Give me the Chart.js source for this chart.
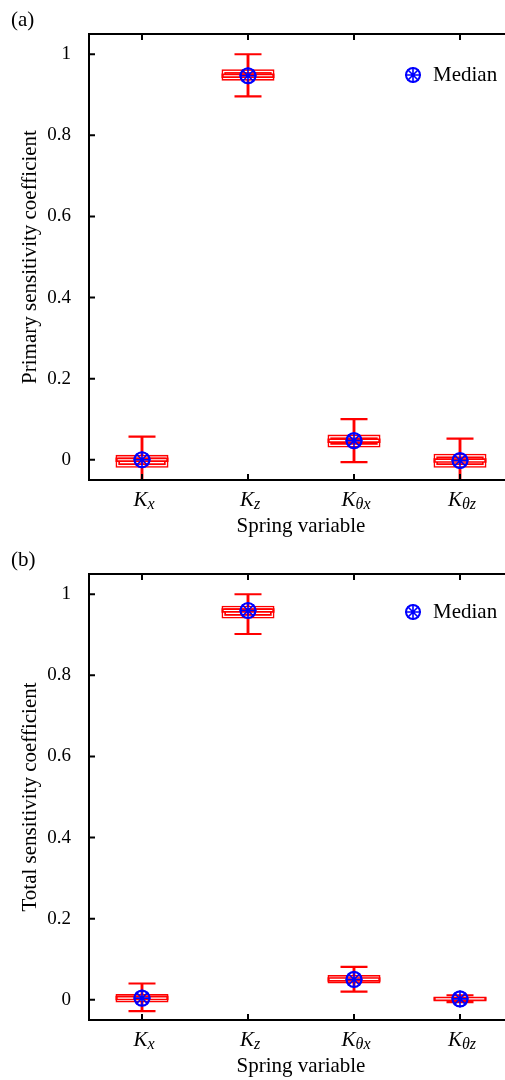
<!DOCTYPE html>
<html>
<head>
<meta charset="utf-8">
<script src="https://cdn.jsdelivr.net/npm/chart.js@4.4.0/dist/chart.umd.min.js"></script>
<style>
  body { margin: 0; background: #fff; }
  .panel { width: 505px; height: 540px; overflow: hidden; }
  canvas { display: block; }
</style>
</head>
<body>
<div class="panel"><canvas id="chartA" width="544" height="540" style="width:544px;height:540px"></canvas></div>
<div class="panel"><canvas id="chartB" width="544" height="540" style="width:544px;height:540px"></canvas></div>
<script>
// categories: K_x, K_z, K_θx, K_θz
const categories = ["Kx", "Kz", "Kθx", "Kθz"];
const subscripts = ["x", "z", "θx", "θz"];

// (a) primary sensitivity coefficient
const primaryLow = [-0.06, 0.896, -0.006, -0.06];
const primaryQ1 = [-0.02, 0.935, 0.030, -0.02];
const primaryMedian = [0.0, 0.947, 0.047, -0.002];
const primaryQ3 = [0.012, 0.963, 0.062, 0.015];
const primaryHigh = [0.057, 1.0, 0.100, 0.052];

// (b) total sensitivity coefficient
const totalLow = [-0.028, 0.902, 0.020, -0.006];
const totalQ1 = [-0.007, 0.940, 0.040, -0.002];
const totalMedian = [0.004, 0.960, 0.050, 0.002];
const totalQ3 = [0.014, 0.972, 0.061, 0.006];
const totalHigh = [0.040, 1.0, 0.081, 0.011];

const yTicks = [0, 0.2, 0.4, 0.6, 0.8, 1];

const RED = "#ff0000";
const BLUE = "#0000ff";
const FONT = "'Liberation Serif', 'Times New Roman', serif";

function points(vals) {
    return vals.map((v, i) => ({ x: categories[i], y: v }));
}

const boxPlugin = {
    id: "boxPlugin",
    afterDatasetDraw(chart, args) {
        if (chart.data.datasets[args.index].label !== "box") return;
        const ctx = chart.ctx;
        ctx.save();
        ctx.strokeStyle = "#fff";
        ctx.lineWidth = 1.2;
        args.meta.data.forEach(bar => {
            const p = bar.getProps(["x", "y", "base", "width"], true);
            const top = Math.min(p.y, p.base);
            const h = Math.abs(p.base - p.y);
            if (h < 6) return;
            ctx.strokeRect(p.x - p.width / 2 + 2.2, top + 2.2, p.width - 4.4, h - 4.4);
        });
        ctx.restore();
    },
    afterDraw(chart) {
        const ctx = chart.ctx;
        const { left, right, top, bottom } = chart.chartArea;
        const xs = chart.scales.x;
        const ys = chart.scales.y;
        const opts = chart.options.plugins.boxPlugin;

        ctx.save();
        ctx.strokeStyle = "#000";
        ctx.lineWidth = 2;
        ctx.beginPath();
        ctx.moveTo(right + 2, top);
        ctx.lineTo(left, top);
        ctx.lineTo(left, bottom);
        ctx.lineTo(right + 2, bottom);
        ctx.stroke();

        ctx.beginPath();
        yTicks.forEach(v => {
            const y = ys.getPixelForValue(v);
            ctx.moveTo(left, y);
            ctx.lineTo(left + 6, y);
        });
        categories.forEach((c, i) => {
            const x = xs.getPixelForValue(i);
            ctx.moveTo(x, bottom);
            ctx.lineTo(x, bottom - 6);
            ctx.moveTo(x, top);
            ctx.lineTo(x, top + 6);
        });
        ctx.stroke();

        // category labels with subscripts
        ctx.fillStyle = "#000";
        ctx.textBaseline = "alphabetic";
        ctx.textAlign = "left";
        categories.forEach((c, i) => {
            const x = xs.getPixelForValue(i);
            ctx.font = "italic 21px " + FONT;
            const wK = ctx.measureText("K").width;
            ctx.font = "italic 16px " + FONT;
            const wS = ctx.measureText(subscripts[i]).width;
            const x0 = x - (wK + wS) / 2 + 2;
            ctx.font = "italic 21px " + FONT;
            ctx.fillText("K", x0, bottom + 26);
            ctx.font = "italic 16px " + FONT;
            ctx.fillText(subscripts[i], x0 + wK, bottom + 29);
        });

        // panel letter
        ctx.font = "21px " + FONT;
        ctx.textBaseline = "middle";
        ctx.fillText(opts.letter, 11, 20);

        // legend
        const lx = 413, ly = opts.legendY;
        ctx.strokeStyle = BLUE;
        ctx.lineWidth = 2;
        ctx.beginPath();
        ctx.arc(lx, ly, 7, 0, Math.PI * 2);
        ctx.stroke();
        ctx.lineWidth = 1.6;
        ctx.beginPath();
        ctx.moveTo(lx - 8, ly); ctx.lineTo(lx + 8, ly);
        ctx.moveTo(lx, ly - 8); ctx.lineTo(lx, ly + 8);
        ctx.moveTo(lx - 5.5, ly - 5.5); ctx.lineTo(lx + 5.5, ly + 5.5);
        ctx.moveTo(lx - 5.5, ly + 5.5); ctx.lineTo(lx + 5.5, ly - 5.5);
        ctx.stroke();
        ctx.font = "21px " + FONT;
        ctx.fillText("Median", 433, ly);
        ctx.restore();
    }
};

function makeChart(id, yTitle, low, q1, median, q3, high, letter, legendY) {
    const whiskers = low.map((v, i) => [v, high[i]]);
    const boxes = q1.map((v, i) => [v, q3[i]]);
    const caps = points(low).concat(points(high));

    new Chart(document.getElementById(id), {
        type: "bar",
        data: {
            labels: categories,
            datasets: [
                {
                    type: "line", label: "median", data: points(median), showLine: false,
                    pointStyle: "circle", pointRadius: 7.5, borderWidth: 2.2,
                    borderColor: BLUE, backgroundColor: "rgba(0,0,0,0)"
                },
                {
                    type: "line", label: "medianStar", data: points(median), showLine: false,
                    pointStyle: "star", pointRadius: 8.5, borderWidth: 1.6,
                    borderColor: BLUE, backgroundColor: "rgba(0,0,0,0)"
                },
                {
                    type: "line", label: "medianInner", data: points(median), showLine: false,
                    pointStyle: "line", pointRadius: 24.3, borderWidth: 1.2, borderColor: "#fff"
                },
                {
                    type: "line", label: "medianLine", data: points(median), showLine: false,
                    pointStyle: "line", pointRadius: 26.5, borderWidth: 4.5, borderColor: RED
                },
                {
                    type: "line", label: "caps", data: caps, showLine: false,
                    pointStyle: "line", pointRadius: 13.5, borderWidth: 2.2, borderColor: RED
                },
                {
                    label: "box", data: boxes, grouped: false,
                    barPercentage: 0.5, categoryPercentage: 1.0,
                    borderColor: RED, borderWidth: 4.5, borderSkipped: false,
                    backgroundColor: "rgba(0,0,0,0)"
                },
                {
                    label: "whisker", data: whiskers, grouped: false,
                    barThickness: 2.2, borderWidth: 0, backgroundColor: RED
                }
            ]
        },
        options: {
            responsive: false,
            animation: false,
            events: [],
            layout: { padding: { top: 34, right: 7, bottom: 0, left: 0 } },
            plugins: {
                legend: { display: false },
                tooltip: { enabled: false },
                boxPlugin: { letter: letter, legendY: legendY }
            },
            scales: {
                x: {
                    type: "category",
                    grid: { display: false, drawTicks: false },
                    border: { display: false },
                    ticks: { display: false },
                    title: {
                        display: true, text: "Spring variable", color: "#000",
                        font: { family: FONT, size: 21, lineHeight: 1 },
                        padding: { top: 0, bottom: 3 }
                    },
                    afterFit: s => { s.height = 60; }
                },
                y: {
                    min: -0.05,
                    max: 1.05,
                    grid: { display: false, drawTicks: false },
                    border: { display: false },
                    ticks: {
                        stepSize: 0.2,
                        includeBounds: false,
                        padding: 18,
                        color: "#000",
                        font: { family: FONT, size: 19 },
                        callback: v => String(Math.round(v * 10) / 10)
                    },
                    title: {
                        display: true, text: yTitle, color: "#000",
                        font: { family: FONT, size: 21, lineHeight: 1 },
                        padding: { top: 20, bottom: 0 }
                    },
                    afterFit: s => { s.width = 89; }
                }
            }
        },
        plugins: [boxPlugin]
    });
}

makeChart("chartA", "Primary sensitivity coefficient",
    primaryLow, primaryQ1, primaryMedian, primaryQ3, primaryHigh, "(a)", 75);
makeChart("chartB", "Total sensitivity coefficient",
    totalLow, totalQ1, totalMedian, totalQ3, totalHigh, "(b)", 72);
</script>
</body>
</html>
